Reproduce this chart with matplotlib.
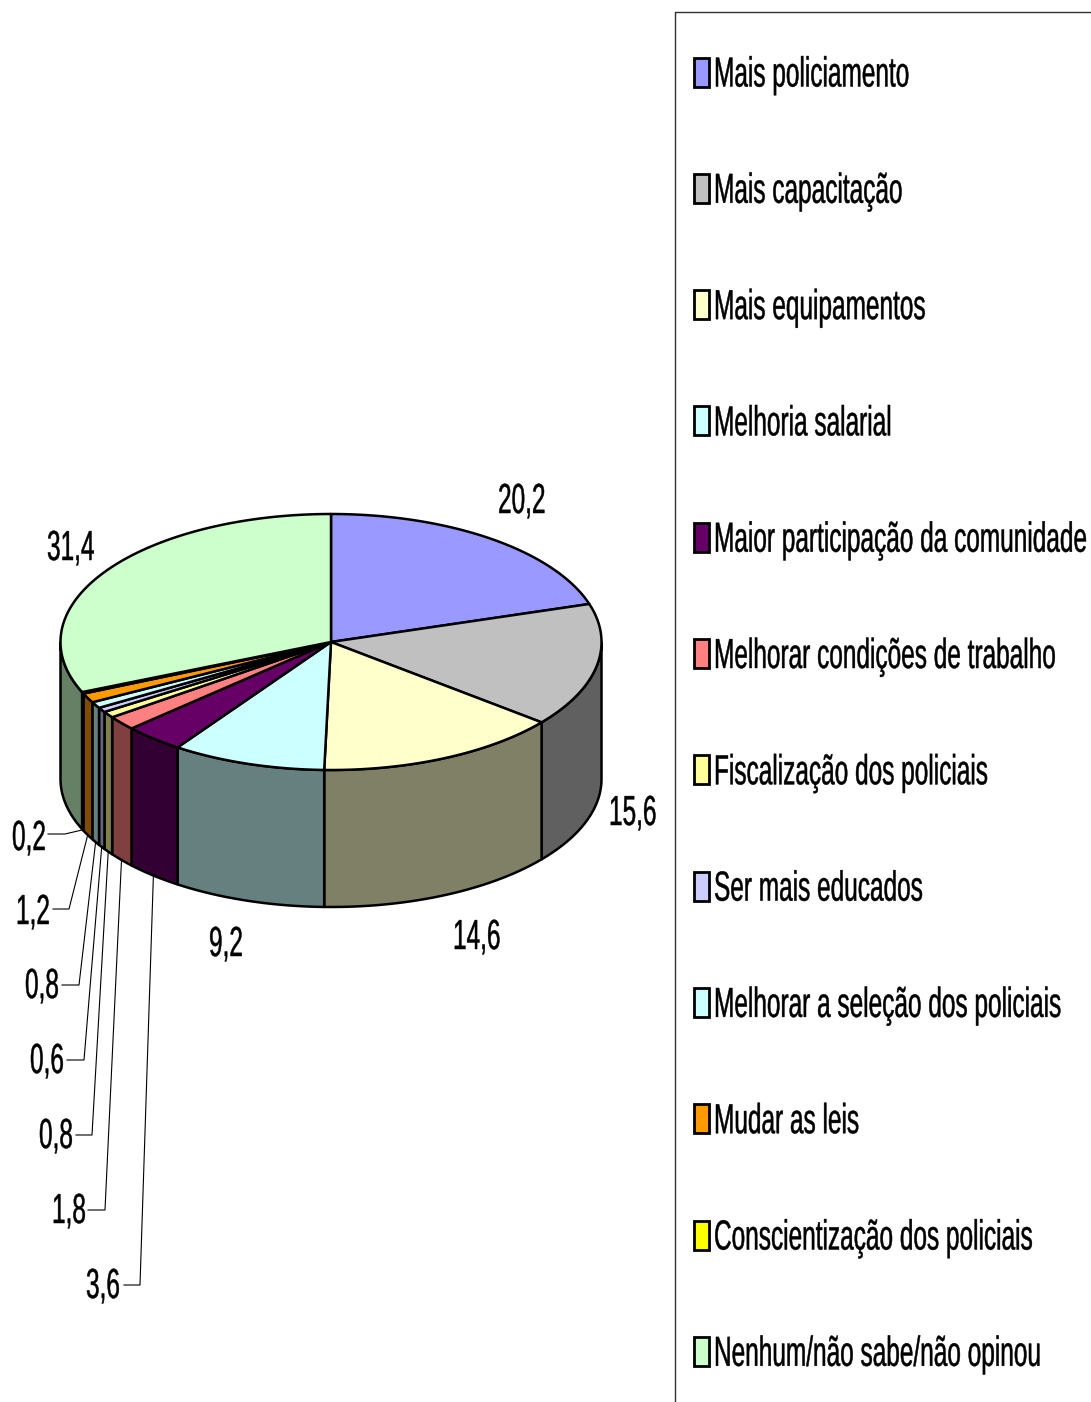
import numpy as np
import matplotlib
matplotlib.use("Agg")
import matplotlib.pyplot as plt
from matplotlib.patches import Polygon, Rectangle
from matplotlib.text import Text
from matplotlib.textpath import TextPath
from matplotlib.transforms import Affine2D, Bbox

categories = [
    "Mais policiamento",
    "Mais capacitação",
    "Mais equipamentos",
    "Melhoria salarial",
    "Maior participação da comunidade",
    "Melhorar condições de trabalho",
    "Fiscalização dos policiais",
    "Ser mais educados",
    "Melhorar a seleção dos policiais",
    "Mudar as leis",
    "Conscientização dos policiais",
    "Nenhum/não sabe/não opinou",
]
values = [20.2, 15.6, 14.6, 9.2, 3.6, 1.8, 0.8, 0.6, 0.8, 1.2, 0.2, 31.4]
colors = ["#9999FF", "#C0C0C0", "#FFFFCC", "#CCFFFF", "#660066", "#FF8080",
          "#FFFF99", "#CCCCFF", "#CCFFFF", "#FF9900", "#FFFF00", "#CCFFCC"]

# layout, in pixels of the picture
CX, CY, RX, RY, DEPTH = 331, 642, 270.5, 128, 137
FONT_PX = 42
SQUEEZE = 0.581
direct_labels = {0: (498, 513), 1: (609, 825), 2: (453, 949), 3: (209, 956), 11: (47, 560)}
leader_labels = {
    10: (12, 850, 48, 65, 834),
    9: (16, 924, 53, 69, 909),
    8: (25, 998, 62, 79, 985),
    7: (30, 1073, 67, 84, 1060),
    6: (39, 1148, 76, 92, 1135),
    5: (52, 1223, 88, 105, 1210),
    4: (86, 1298, 124, 140, 1285),
}


class SqueezedText(Text):
    # real text, drawn narrower than the font like in the original
    def _path(self):
        return TextPath((0, 0), self.get_text(), size=FONT_PX, prop=self.get_fontproperties())

    def _place(self):
        x, y = self.get_transform().transform(self.get_position())
        return Affine2D().scale(SQUEEZE, 1).translate(x, y)

    def draw(self, renderer):
        gc = renderer.new_gc()
        gc.set_antialiased(True)
        gc.set_linewidth(0.35)
        gc.set_foreground("black")
        renderer.draw_path(gc, self._path(), self._place(), rgbFace=(0, 0, 0))
        gc.restore()

    def get_window_extent(self, renderer=None, dpi=None):
        pts = self._place().transform(self._path().vertices)
        return Bbox([pts.min(axis=0), pts.max(axis=0)])


def arc(a, b, dy=0):
    t = np.radians(np.linspace(a, b, max(int(abs(b - a)) * 2, 2)))
    return np.column_stack([CX + RX * np.sin(t), CY - RY * np.cos(t) + dy])


def darker(c):
    return tuple(v * 0.5 for v in matplotlib.colors.to_rgb(c))


def label(x, y, s):
    ax.add_artist(SqueezedText(x, y, s, family="Liberation Sans", clip_on=False))


fig = plt.figure(figsize=(10.91, 14.02), dpi=100)
ax = fig.add_axes([0, 0, 1, 1])
ax.set_xlim(0, 1091)
ax.set_ylim(1402, 0)
ax.axis("off")

edges = np.cumsum([0] + values) / sum(values) * 360

# rim first, then the top
for i, c in enumerate(colors):
    a, b = max(edges[i], 90), min(edges[i + 1], 270)
    if a < b:
        pts = np.vstack([arc(a, b), arc(b, a, DEPTH)])
        ax.add_patch(Polygon(pts, facecolor=darker(c), edgecolor="black", lw=1.8, joinstyle="round"))
for i, c in enumerate(colors):
    pts = np.vstack([[CX, CY], arc(edges[i], edges[i + 1])])
    ax.add_patch(Polygon(pts, facecolor=c, edgecolor="black", lw=1.8, joinstyle="round"))

for i, (x, y) in direct_labels.items():
    label(x, y, str(values[i]).replace(".", ","))

for i, (x, y, x0, x1, yl) in leader_labels.items():
    label(x, y, str(values[i]).replace(".", ","))
    mid = np.radians((edges[i] + edges[i + 1]) / 2)
    ex, ey = CX + RX * np.sin(mid), CY - RY * np.cos(mid) + DEPTH
    ax.plot([x0, x1, ex], [yl, yl, ey], color="black", lw=0.8)

# legend box runs off the picture on the right and at the bottom
ax.plot([675, 675, 1091], [1402, 12, 12], color="#303030", lw=1.0, clip_on=False)
for i, (name, c) in enumerate(zip(categories, colors)):
    yc = 72 + i * 116.3
    ax.add_patch(Rectangle((694, yc - 14.5), 14.5, 29, facecolor=c, edgecolor="black", lw=2.0))
    label(714, yc + 14.5, name)

fig.savefig("out.png", dpi=100)
